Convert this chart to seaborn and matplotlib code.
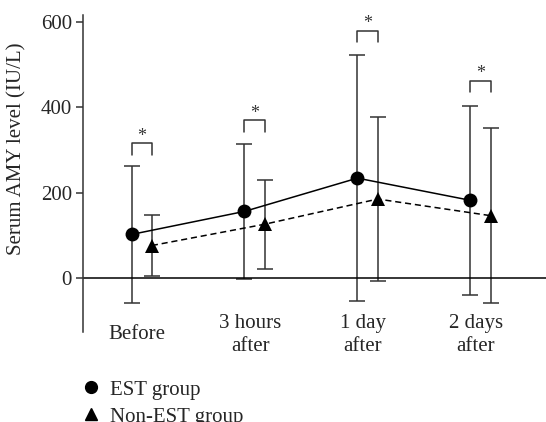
import numpy as np
import pandas as pd
import seaborn as sns
import matplotlib.pyplot as plt
from matplotlib.lines import Line2D

categories = ["Before", "3 hours\nafter", "1 day\nafter", "2 days\nafter"]
est_mean = [102, 156, 234, 182]
est_sd = [160, 158, 288, 221]
non_mean = [76, 126, 185, 146]
non_sd = [72, 104, 193, 205]
bracket_top = [316, 370, 579, 462]

sns.set_theme(style="ticks")
plt.rcParams['font.family'] = ['Liberation Serif', 'DejaVu Serif']
fs = 15

off = 0.09
pos = np.arange(len(categories))
df = pd.DataFrame({
    'x': np.concatenate([pos - off, pos + off]),
    'level': est_mean + non_mean,
    'group': ['EST group'] * 4 + ['Non-EST group'] * 4,
})

fig = plt.figure(figsize=(5.46, 4.22), dpi=100)
ax = fig.add_axes([0.152, 0.213, 0.848, 0.751])

sns.lineplot(data=df, x='x', y='level', style='group', markers={'EST group': 'o', 'Non-EST group': '^'},
             dashes={'EST group': '', 'Non-EST group': (4, 2.5)}, color='black', lw=1.1,
             markersize=10, markeredgewidth=0, legend=False, ax=ax, zorder=3)

ax.errorbar(pos - off, est_mean, yerr=est_sd, fmt='none', ecolor='#333333', elinewidth=1.1, capsize=6, capthick=1.1)
ax.errorbar(pos + off, non_mean, yerr=non_sd, fmt='none', ecolor='#333333', elinewidth=1.1, capsize=5.5, capthick=1.1)

# significance brackets
for i, top in enumerate(bracket_top):
    ax.plot([i - off, i - off, i + off, i + off], [top - 27, top, top, top - 27], color='#333333', lw=1.1)
    ax.text(i, top + 6, '*', ha='center', va='baseline', fontsize=13, color='#333333')

ax.axhline(0, color='black', lw=1.1)
ax.set_xlim(-0.52, 3.58)
ax.set_ylim(-127, 616)
ax.set_yticks([0, 200, 400, 600])
ax.set_xticks(pos - 0.04)
ax.set_xticklabels(categories, va='center', linespacing=1.3, fontsize=fs)
ax.tick_params(axis='x', length=0, pad=2)
ax.tick_params(axis='y', length=5, width=1.1, color='#333333', pad=3, labelsize=fs)
sns.despine(ax=ax, bottom=True)
ax.spines['left'].set_color('#333333')
ax.spines['left'].set_linewidth(1.1)
ax.set_xlabel('')
ax.set_ylabel('Serum AMY level (IU/L)', fontsize=fs)
ax.yaxis.set_label_coords(-0.122, 0.58)

handles = [Line2D([], [], marker='o', color='black', ls='none', markersize=8.5),
           Line2D([], [], marker='^', color='black', ls='none', markersize=8.5)]
fig.legend(handles, ['EST group', 'Non-EST group'], loc='upper left', bbox_to_anchor=(0.125, 0.124),
           frameon=False, handletextpad=0.3, handlelength=1.2, labelspacing=0.35, borderpad=0,
           fontsize=fs)

fig.savefig('out.png', dpi=100)
